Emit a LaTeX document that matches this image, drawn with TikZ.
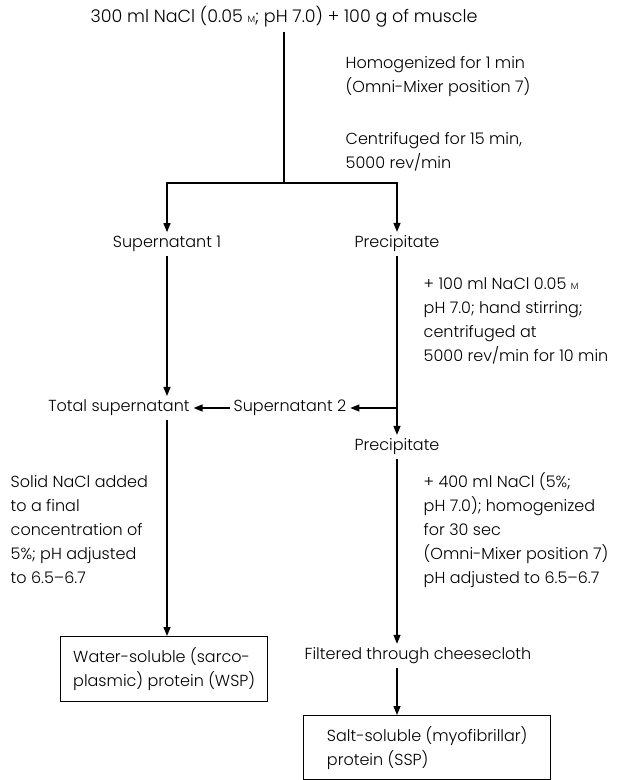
\documentclass[tikz,border=0pt]{standalone}
\usepackage{fontspec}
\setmainfont{Poppins}[UprightFont=* Light]
\usetikzlibrary{arrows.meta,positioning}
\begin{document}
\begin{tikzpicture}[x=1pt, y=-1pt, ->, >={Triangle[length=9pt,width=7pt]}, line width=1.4pt,
    note node/.style={align=left, anchor=west, inner sep=0pt},
    box node/.style={draw, align=left, inner xsep=6pt, anchor=north west}]
        \tikzstyle{every node}=[font=\fontsize{16}{24}\selectfont]
        \useasboundingbox (0,0) rectangle (617,780);

          \node[font=\fontsize{17.5}{24}\selectfont] (start) at (284,17) {300 ml NaCl (0.05 {\small M}; pH 7.0) + 100 g of muscle};
          \coordinate (split) at (284,183);
          \node[] (sup1) at (167,244) {Supernatant 1};
          \node[] (prec1) at (397,244) {Precipitate};
          \node[note node] (homog) at (345,77) {Homogenized for 1 min\\(Omni-Mixer position 7)};
          \node[note node] (cent) at (345,152) {Centrifuged for 15 min,\\5000 rev/min};
          \node[note node] (wash) at (423,321) {+ 100 ml NaCl 0.05 {\small M}\\pH 7.0; hand stirring;\\centrifuged at\\5000 rev/min for 10 min};
          \node[] (total) at (119,408) {Total supernatant};
          \node[] (sup2) at (290,408) {Supernatant 2};
          \node[] (prec2) at (397,447) {Precipitate};
          \node[note node] (salt) at (10,530) {Solid NaCl added\\to a final\\concentration of\\5\%; pH adjusted\\to 6.5--6.7};
          \node[note node] (extract) at (423,530) {+ 400 ml NaCl (5\%;\\pH 7.0); homogenized\\for 30 sec\\(Omni-Mixer position 7)\\pH adjusted to 6.5--6.7};
          \node[box node, minimum width=207pt, minimum height=65pt] (wsp) at (60,636) {Water-soluble (sarco-\\plasmic) protein (WSP)};
          \node[] (filt) at (418,656) {Filtered through cheesecloth};
          \node[box node, minimum width=247pt, minimum height=64pt] (ssp) at (303,715) {Salt-soluble (myofibrillar)\\protein (SSP)};

          \draw[-] (start) -- (split);
          \draw (split) -| (sup1);
          \draw (split) -| (prec1);
          \draw (sup1) -- (sup1 |- total.north);
          \draw (prec1) -- (prec2);
          \draw[-] (prec1 |- sup2) edge[->] (sup2);
          \draw (sup2) -- (total);
          \draw (total.south -| sup1) -- (sup1 |- wsp.north);
          \draw (prec2) -- (prec2 |- filt.north);
          \draw (filt.south -| prec2) -- (prec2 |- ssp.north);

        \end{tikzpicture}
\end{document}
